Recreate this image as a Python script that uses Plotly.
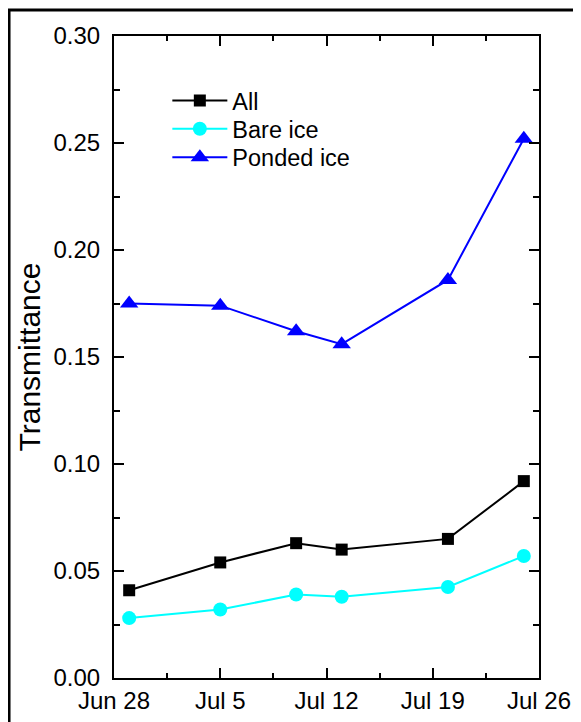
"""
Transmittance of sea ice over the melt season, by surface type.
"""

import plotly.graph_objects as go

dates = ["2011-06-29", "2011-07-05", "2011-07-10", "2011-07-13", "2011-07-20", "2011-07-25"]
all_ice = [0.041, 0.054, 0.063, 0.060, 0.065, 0.092]
bare_ice = [0.028, 0.032, 0.039, 0.038, 0.0425, 0.057]
ponded_ice = [0.175, 0.174, 0.162, 0.156, 0.186, 0.252]

tick_dates = ["2011-06-28", "2011-07-05", "2011-07-12", "2011-07-19", "2011-07-26"]
tick_labels = ["Jun 28", "Jul 5", "Jul 12", "Jul 19", "Jul 26"]

series = [
    ("All", all_ice, "#000000", "square", 12),
    ("Bare ice", bare_ice, "#00FFFF", "circle", 14),
    ("Ponded ice", ponded_ice, "#0000FF", "triangle-up", 16),
]

font = "Liberation Sans, Arial, sans-serif"

# the page body adds an 8px margin, so the figure is drawn 8px smaller
W, H = 573, 714

fig = go.Figure()
for i, (name, values, color, symbol, size) in enumerate(series):
    fig.add_trace(
        go.Scatter(
            x=dates,
            y=values,
            name=name,
            mode="lines+markers",
            line=dict(color=color, width=2),
            marker=dict(symbol=symbol, size=size, color=color),
            legend="legend" if i == 0 else f"legend{i + 1}",
            showlegend=True,
        )
    )

axis_style = dict(
    showline=True,
    linecolor="black",
    linewidth=2,
    mirror="ticks",
    ticks="inside",
    ticklen=10,
    tickwidth=2,
    tickcolor="black",
    showgrid=False,
    zeroline=False,
    automargin=False,
    tickfont=dict(family=font, size=24, color="black"),
)

# one legend per row, so the row spacing can follow the original
legend_rows = [0.9335, 0.8894, 0.8452]
legend_style = dict(
    x=0.1255,
    xanchor="left",
    yanchor="top",
    bgcolor="rgba(0,0,0,0)",
    font=dict(family=font, size=23.5, color="black"),
    itemwidth=55,
)

fig.update_layout(
    width=W,
    height=H,
    margin=dict(l=106, r=42, t=28, b=44),
    paper_bgcolor="white",
    plot_bgcolor="white",
    showlegend=True,
    font=dict(family=font, color="black"),
    legend=dict(legend_style, y=legend_rows[0]),
    legend2=dict(legend_style, y=legend_rows[1]),
    legend3=dict(legend_style, y=legend_rows[2]),
    xaxis=dict(
        axis_style,
        range=["2011-06-28", "2011-07-26"],
        tickvals=tick_dates,
        ticktext=tick_labels,
        ticklabelstandoff=0,
        minor=dict(
            ticks="inside",
            ticklen=5,
            tickwidth=2,
            tickcolor="black",
            tick0="2011-06-28",
            dtick=3.5 * 86400000,
        ),
    ),
    yaxis=dict(
        axis_style,
        range=[0, 0.30],
        dtick=0.05,
        tickformat=".2f",
        ticklabelstandoff=7,
        title=dict(text="Transmittance", font=dict(family=font, size=30, color="black"), standoff=4),
        minor=dict(ticks="inside", ticklen=6, tickwidth=2, tickcolor="black", dtick=0.025),
    ),
)

# outer frame around the figure (right and bottom edges fall outside the page)
fig.add_shape(
    type="rect",
    xref="paper",
    yref="paper",
    x0=-0.247,
    x1=1.2,
    y0=-0.12,
    y1=1.0405,
    line=dict(color="black", width=3),
    fillcolor="rgba(0,0,0,0)",
    layer="below",
)

fig.write_html("out.html")
